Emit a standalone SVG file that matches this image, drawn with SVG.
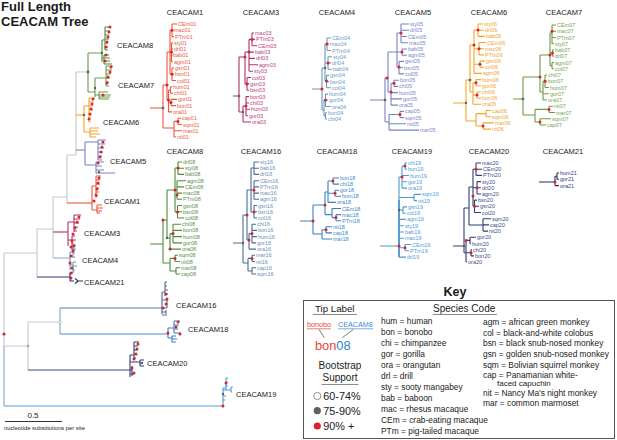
<svg xmlns="http://www.w3.org/2000/svg" width="617" height="440" viewBox="0 0 617 440">
<style>
text{font-family:"Liberation Sans",Arial,Helvetica,sans-serif}
.ttl{font-size:7.5px;fill:#1a1a1a;text-anchor:middle}
.lb{font-size:7.5px;fill:#1a1a1a}
.tp{font-size:5.5px}
.br{fill:none;stroke-width:1.1}
.rd{fill:#d7262b}
.gd{fill:#5f6062}
.k{font-size:8.4px;fill:#1a1a1a}
</style>
<rect width="617" height="440" fill="#fff"/>
<text x="1" y="11.2" font-size="13" font-weight="bold" fill="#1a1a1a">Full Length</text>
<text x="1" y="25.5" font-size="13" font-weight="bold" fill="#1a1a1a">CEACAM Tree</text>

<!-- Main tree connectors -->
<g id="connectors">
<path class="br" stroke="#c5c8cc" d="M4 253V346 M4 253H37 M37 229V277 M37 229H53 M53 197V258 M53 197H67 M67 155V203 M67 155H76 M76 72V155 M76 72H88 M4 346H28 M28 322V370 M28 322H60"/>
<path class="br" stroke="#7aaad8" d="M4 346V406"/>
<path class="br" stroke="#8aa0bb" d="M60 308V334"/>
<path class="br" stroke="#3b3580" d="M37 277H70"/>
<path class="br" stroke="#b12f6a" d="M53 232H68"/>
<path class="br" stroke="#8fb0cf" d="M53 258H70"/>
<path class="br" stroke="#e8553a" d="M67 203H92"/>
<path class="br" stroke="#f4a528" d="M76 115H84"/>
<path class="br" stroke="#7682c2" d="M76 150H85"/>
<path class="br" stroke="#6c9a48" d="M88 53V92 M88 53H102 M88 92H95"/>
<path class="br" stroke="#5d7fa6" d="M60 308H162"/>
<path class="br" stroke="#4f8cc8" d="M60 334H168"/>
<path class="br" stroke="#3a4a80" d="M28 370H130"/>
<path class="br" stroke="#5b9dd8" d="M4 406H222"/>
<circle class="rd" cx="4" cy="334" r="1.6"/>
<circle class="gd" cx="88" cy="72" r="1.4"/>
<circle fill="#aaa" cx="28" cy="346" r="1.3"/>
<circle fill="#fff" stroke="#999" stroke-width="0.5" cx="60" cy="322" r="1.3"/>
</g>

<!-- Main tree clades -->
<g id="m-c8">
<path class="br" stroke="#4f8a3e" d="M102 40V62 M102 40H105 M105 27V50 M105 27H111 M105 31H110 M105 35H109 M105 39H109 M105 43H108 M105 47H108 M105 50H108 M102 58H104 M104 55V64 M104 55H109 M104 58H110 M104 61H110 M104 64H112"/>
<circle class="rd" cx="110" cy="27" r="1.5"/><circle class="rd" cx="109" cy="32" r="1.5"/><circle class="rd" cx="108" cy="37" r="1.5"/><circle class="rd" cx="107" cy="42" r="1.5"/><circle class="rd" cx="106" cy="47" r="1.5"/><circle class="rd" cx="106" cy="55" r="1.5"/><circle class="rd" cx="105" cy="61" r="1.5"/><circle class="gd" cx="102" cy="53" r="1.2"/>
<text class="lb" x="117" y="47.7">CEACAM8</text>
</g>
<g id="m-c7">
<path class="br" stroke="#6c9a48" d="M95 78V97 M95 78H106 M106 66V86 M106 66H113 M106 70H112 M106 74H111 M106 78H110 M106 82H109 M106 86H109 M95 95H99 M99 92V99 M99 92H108 M99 95H111 M99 97H110 M99 99H109"/>
<circle class="rd" cx="111" cy="67" r="1.5"/><circle class="rd" cx="110" cy="72" r="1.5"/><circle class="rd" cx="108" cy="77" r="1.5"/><circle class="rd" cx="107" cy="83" r="1.5"/><circle class="rd" cx="103" cy="95" r="1.5"/><circle class="gd" cx="95" cy="88" r="1.2"/>
<text class="lb" x="118" y="87.5">CEACAM7</text>
</g>
<g id="m-c6">
<path class="br" stroke="#f4a528" d="M84 106V132 M84 106H89 M89 98V122 M89 98H95 M89 102H94 M89 106H93 M89 110H93 M89 114H92 M89 118H91 M89 122H91 M84 132H90 M90 128V137 M90 128H99 M90 131H98 M90 134H100 M90 137H96"/>
<circle class="rd" cx="93" cy="99" r="1.5"/><circle class="rd" cx="92" cy="104" r="1.5"/><circle class="rd" cx="91" cy="109" r="1.5"/><circle class="rd" cx="90" cy="114" r="1.5"/><circle class="rd" cx="89" cy="119" r="1.5"/><circle class="gd" cx="84" cy="115" r="1.2"/>
<text class="lb" x="103" y="124.5">CEACAM6</text>
</g>
<g id="m-c5">
<path class="br" stroke="#7682c2" d="M85 142V165 M85 142H98 M98 140V160 M98 140H106 M98 144H105 M98 148H104 M98 152H103 M98 156H102 M98 160H102 M85 165H96 M96 162V173 M96 162H104 M96 166H102 M96 170H104 M96 173H115"/>
<circle class="rd" cx="103" cy="142" r="1.5"/><circle class="rd" cx="102" cy="147" r="1.5"/><circle class="rd" cx="101" cy="152" r="1.5"/><circle class="rd" cx="100" cy="157" r="1.5"/><circle class="rd" cx="98" cy="163" r="1.5"/><circle class="gd" cx="99" cy="172" r="1.2"/>
<text class="lb" x="110" y="163.5">CEACAM5</text>
</g>
<g id="m-c1">
<path class="br" stroke="#e8553a" d="M92 186V210 M92 186H96 M96 176V198 M96 176H101 M96 180H100 M96 184H100 M96 188H99 M96 192H99 M96 196H98 M92 210H97 M97 205V213 M97 205H102 M97 208H103 M97 211H102 M97 213H100"/>
<circle class="rd" cx="99" cy="178" r="1.5"/><circle class="rd" cx="98" cy="183" r="1.5"/><circle class="rd" cx="97" cy="189" r="1.5"/><circle class="rd" cx="96" cy="195" r="1.5"/><circle class="rd" cx="94" cy="201" r="1.5"/>
<text class="lb" x="104" y="203.5">CEACAM1</text>
</g>
<g id="m-c3">
<path class="br" stroke="#b12f6a" d="M68 222V246 M68 222H74 M74 215V232 M74 215H81 M74 219H80 M74 223H79 M74 227H78 M74 231H77 M68 240H72 M72 236V250 M72 236H75 M72 240H76 M72 244H74 M72 248H73 M72 250H75"/>
<circle class="rd" cx="79" cy="217" r="1.5"/><circle class="rd" cx="77" cy="222" r="1.5"/><circle class="rd" cx="75" cy="228" r="1.5"/><circle class="rd" cx="73" cy="234" r="1.5"/><circle class="rd" cx="72" cy="241" r="1.5"/><circle class="rd" cx="71" cy="247" r="1.5"/>
<text class="lb" x="84" y="236">CEACAM3</text>
</g>
<g id="m-c4">
<path class="br" stroke="#6b98bd" d="M70 252V270 M70 252H73 M73 245V258 M73 245H76 M73 249H76 M73 253H75 M73 257H75 M70 265H73 M73 262V272 M73 262H76 M73 266H77 M73 270H75 M73 272H74"/>
<circle class="rd" cx="74" cy="246" r="1.5"/><circle class="rd" cx="73" cy="251" r="1.5"/><circle class="rd" cx="71" cy="256" r="1.5"/><circle class="rd" cx="70" cy="263" r="1.5"/><circle class="rd" cx="72" cy="268" r="1.5"/>
<text class="lb" x="82" y="263">CEACAM4</text>
</g>
<g id="m-c21">
<path class="br" stroke="#2a2a70" d="M70 273V281 M70 273H73 M70 281H74 M75 278.5L78 281 L83 281 M75 283.5L78 281"/>
<circle class="rd" cx="71" cy="273" r="1.5"/><circle class="rd" cx="71" cy="278" r="1.5"/>
<text class="lb" x="84" y="284.5">CEACAM21</text>
</g>
<g id="m-c16">
<path class="br" stroke="#4a6e94" d="M162 292V314 M162 300H167 M167 300V308 M162 308H167 M162 292H165 M165 282V296 M165 282H167 M165 286H167 M165 290H168 M165 294H168 M162 312H166 M162 315H167 M166 310V314"/>
<circle class="rd" cx="166" cy="294" r="1.5"/><circle class="rd" cx="167" cy="299" r="1.5"/><circle class="rd" cx="166" cy="304" r="1.5"/><circle class="rd" cx="163" cy="308" r="1.5"/>
<text class="lb" x="176" y="308">CEACAM16</text>
</g>
<g id="m-c18">
<path class="br" stroke="#3a80c2" d="M168 328V338 M168 328H174 M174 321V333 M174 321H180 M174 325H179 M174 329H178 M174 333H181 M168 338H172 M172 336V342 M172 336H176 M172 339H177 M172 342H176"/>
<circle class="rd" cx="178" cy="322" r="1.5"/><circle class="rd" cx="176" cy="327" r="1.5"/><circle class="rd" cx="168" cy="333" r="1.5"/><circle class="rd" cx="180" cy="334" r="1.5"/>
<text class="lb" x="188" y="332">CEACAM18</text>
</g>
<g id="m-c20">
<path class="br" stroke="#2e3f78" d="M130 355V377 M130 355H134 M134 342V360 M134 342H139 M134 346H138 M134 350H137 M134 354H137 M134 358H136 M130 362H140 M140 360V366 M140 360H144 M140 363H143 M140 366H144 M130 370H132 M130 374H134 M132 366V376"/>
<circle class="rd" cx="138" cy="344" r="1.5"/><circle class="rd" cx="137" cy="349" r="1.5"/><circle class="rd" cx="136" cy="354" r="1.5"/><circle class="rd" cx="134" cy="359" r="1.5"/><circle class="rd" cx="132" cy="368" r="1.5"/><circle class="rd" cx="134" cy="373" r="1.5"/><circle class="gd" cx="142" cy="363" r="1.2"/>
<text class="lb" x="147" y="366">CEACAM20</text>
</g>
<g id="m-c19">
<path class="br" stroke="#4c9ad6" d="M223 388V406 M223 388H226 M226 378V390 M226 378H228 M226 382H228 M226 386H228 M223 390H231 M231 387V392 M231 387H233 M231 392H232 M223 396H226 M223 400H225"/>
<circle class="rd" cx="226" cy="383" r="1.5"/><circle class="rd" cx="223" cy="406" r="1.5"/><circle class="gd" cx="223" cy="394" r="1.2"/>
<text class="lb" x="236" y="397">CEACAM19</text>
</g>

<g id="scale">
<path d="M5 421.5H62" stroke="#333" stroke-width="1"/>
<text x="33" y="418" font-size="8" fill="#1a1a1a" text-anchor="middle">0.5</text>
<text x="4" y="429.5" font-size="5.8" fill="#1a1a1a">nucleotide substitutions per site</text>
</g>

<!-- Small trees -->
<g id="tree-c1">
<text class="ttl" x="185" y="14.5">CEACAM1</text>
<path class="br" stroke="#e8553a" d="M150 108H163 M163 85V128 M163 85H167 M167 52V100 M167 52H170 M170 30.3V74.2 M170 30.3H172 M172 24V36.6 M172 24H177 M172 30.3H173 M172 36.6H174 M170 52H171.5 M171.5 42.8V61.7 M171.5 42.8H173 M171.5 49.1H173 M171.5 55.4H172.5 M171.5 61.7H173 M170 74.2H172 M172 68V80.5 M172 68H174 M172 74.2H174 M172 80.5H176 M167 100H168.5 M168.5 90V111.9 M168.5 90H170.5 M170.5 86.8V93.1 M170.5 86.8H172 M170.5 93.1H173 M168.5 102.5H171 M171 99.4V105.6 M171 99.4H177 M171 105.6H176 M168.5 111.9H172 M163 128H174 M174 121.4V137 M174 121.4H178 M178 118.2V124.5 M178 118.2H181 M178 124.5H182 M174 130.8H182 M174 137H176"/>
<circle class="rd" cx="172" cy="30.3" r="1.5"/><circle class="rd" cx="171.5" cy="52" r="1.5"/><circle class="rd" cx="172" cy="74.2" r="1.5"/><circle class="rd" cx="168.5" cy="100" r="1.5"/><circle class="rd" cx="171" cy="102.5" r="1.5"/><circle class="rd" cx="167" cy="85" r="1.5"/><circle class="rd" cx="178" cy="121.4" r="1.5"/><circle class="gd" cx="163" cy="108" r="1.3"/>
<g class="tp" fill="#ea5a40">
<text x="178" y="26">CEm01</text><text x="174" y="32.3">mac01</text><text x="175" y="38.6">PTm01</text><text x="174" y="44.8">sty01</text><text x="174" y="51.1">drl01</text><text x="173" y="57.4">bab01</text><text x="174" y="63.7">agm01</text><text x="175" y="70">gsn01</text><text x="175" y="76.2">bsn01</text><text x="177" y="82.5">col01</text><text x="173" y="88.8">hum01</text><text x="174" y="95.1">chi01</text><text x="178" y="101.4">gor01</text><text x="177" y="107.6">bon01</text><text x="173" y="113.9">ora01</text><text x="182" y="120.2">cap01</text><text x="183" y="126.5">sqm01</text><text x="183" y="132.8">mar01</text><text x="177" y="139">nit01</text>
</g>
</g>

<g id="tree-c3">
<text class="ttl" x="261" y="14.5">CEACAM3</text>
<path class="br" stroke="#b12f6a" d="M233 96H239 M239 57V112 M239 57H245 M245 52V84 M245 52H249 M249 39.4V71.2 M249 39.4H252 M252 33V45.7 M252 33H254 M252 39.4H255 M252 45.7H257 M249 52.1H254 M249 58.4H255 M249 64.8H258 M249 71.2H253 M245 84H247 M247 77.5V90.2 M247 77.5H251 M247 83.9H249 M247 90.2H249 M239 112H243 M243 106V122 M243 106H246 M246 96.6V115.7 M246 96.6H249 M246 103H249 M246 109.3H250 M246 115.7H248 M243 122H251"/>
<circle class="rd" cx="252" cy="39.4" r="1.5"/><circle class="rd" cx="249" cy="52" r="1.5"/><circle class="rd" cx="247" cy="84" r="1.5"/><circle class="rd" cx="246" cy="106" r="1.5"/><circle class="rd" cx="245" cy="57" r="1.5"/><circle class="gd" cx="239" cy="96" r="1.3"/><circle class="gd" cx="243" cy="112" r="1.2"/>
<g class="tp" fill="#c0407a">
<text x="255" y="35">mac03</text><text x="256" y="41.4">PTm03</text><text x="258" y="47.7">CEm03</text><text x="255" y="54.1">bab03</text><text x="256" y="60.4">drl03</text><text x="259" y="66.8">agm03</text><text x="254" y="73.2">sty03</text><text x="252" y="79.5">col03</text><text x="250" y="85.9">gsn03</text><text x="250" y="92.2">bsn03</text><text x="250" y="98.6">bon03</text><text x="250" y="105">chi03</text><text x="251" y="111.3">hum03</text><text x="249" y="117.7">gor03</text><text x="252" y="124">ora03</text>
</g>
</g>

<g id="tree-c4">
<text class="ttl" x="337" y="14.5">CEACAM4</text>
<path class="br" stroke="#6b98bd" d="M312 89H322 M322 68V110 M322 68H325 M325 44V81 M325 44H327 M327 38V50.5 M327 38H331 M327 44.2H329 M327 50.5H331 M325 63H328 M328 56.7V69.2 M328 56.7H332 M328 62.9H331 M328 69.2H332 M325 81H326.5 M326.5 75.4V87.8 M326.5 75.4H329 M326.5 81.6H329 M326.5 87.8H331 M322 110H324 M324 100V116 M324 100H325.5 M325.5 94.1V106.5 M325.5 94.1H328 M325.5 100.3H328 M325.5 106.5H331 M324 116H325.5 M325.5 112.8V119 M325.5 112.8H327 M325.5 119H327"/>
<circle class="rd" cx="327" cy="44" r="1.5"/><circle class="rd" cx="328" cy="63" r="1.5"/><circle class="rd" cx="326.5" cy="81" r="1.5"/><circle class="rd" cx="325.5" cy="100" r="1.5"/><circle class="rd" cx="322" cy="89" r="1.5"/><circle class="gd" cx="325" cy="68" r="1.2"/>
<g class="tp" fill="#6c9cc6">
<text x="332" y="40">CEm04</text><text x="330" y="46.2">mac04</text><text x="332" y="52.5">PTm04</text><text x="333" y="58.7">sty04</text><text x="332" y="64.9">drl04</text><text x="333" y="71.2">bab04</text><text x="330" y="77.4">gsn04</text><text x="330" y="83.6">bsn04</text><text x="332" y="89.8">col04</text><text x="329" y="96.1">hum04</text><text x="329" y="102.3">gor04</text><text x="332" y="108.5">ora04</text><text x="328" y="114.8">bon04</text><text x="328" y="121">chi04</text>
</g>
</g>

<g id="tree-c5">
<text class="ttl" x="413" y="14.5">CEACAM5</text>
<path class="br" stroke="#7682c2" d="M370 100H385 M385 78V122 M385 78H388 M388 52V92 M388 52H397 M397 33V67 M397 33H401 M401 24V42.7 M401 24H409 M401 30.2H409 M401 36.5H407 M401 42.7H408 M397 52H402 M402 49V55.2 M402 49H407 M402 55.2H407 M397 67H399 M399 61.4V73.9 M399 61.4H404 M399 67.7H403 M399 73.9H404 M388 92H391 M391 83.3V105.1 M391 83.3H394 M394 80.2V86.4 M394 80.2H399 M394 86.4H398 M391 92.6H398 M391 98.9H402 M391 105.1H398 M385 122H389 M389 114.5V130.1 M389 114.5H400 M400 111.4V117.6 M400 111.4H404 M400 117.6H404 M389 123.8H406 M389 130.1H419"/>
<circle class="rd" cx="387" cy="78" r="1.5"/><circle class="rd" cx="401" cy="33" r="1.5"/><circle class="rd" cx="402" cy="52" r="1.5"/><circle class="rd" cx="399" cy="67" r="1.5"/><circle class="rd" cx="394" cy="83.3" r="1.5"/><circle class="rd" cx="391" cy="92" r="1.5"/><circle class="rd" cx="400" cy="114.5" r="1.5"/><circle class="gd" cx="385" cy="100" r="1.3"/>
<g class="tp" fill="#7c88cc">
<text x="410" y="26">sty05</text><text x="410" y="32.2">drl05</text><text x="408" y="38.5">CEm05</text><text x="409" y="44.7">mac05</text><text x="408" y="51">bab05</text><text x="408" y="57.2">agm05</text><text x="405" y="63.4">gsn05</text><text x="404" y="69.7">bsn05</text><text x="405" y="75.9">col05</text><text x="400" y="82.2">bon05</text><text x="399" y="88.4">chi05</text><text x="399" y="94.6">hum05</text><text x="403" y="100.9">gor05</text><text x="399" y="107.1">ora05</text><text x="405" y="113.4">cap05</text><text x="405" y="119.6">sqm05</text><text x="407" y="125.8">nit05</text><text x="420" y="132.1">mar05</text>
</g>
</g>

<g id="tree-c6">
<text class="ttl" x="489" y="14.5">CEACAM6</text>
<path class="br" stroke="#f4a528" d="M453 103H466 M466 80V121 M466 80H470 M470 45V92 M470 45H474 M474 30V73.4 M474 30H478 M478 24V36.4 M478 24H483 M478 30.2H484 M478 36.4H485 M474 48.7H479 M479 42.5V54.9 M479 42.5H486 M479 48.7H484 M479 54.9H484 M474 64.2H480 M480 61.1V67.3 M480 61.1H485 M480 67.3H484 M474 73.4H482 M470 92H473 M473 82.7V104.3 M473 82.7H476 M476 79.6V85.8 M476 79.6H481 M476 85.8H481 M473 95.1H477 M477 92V98.2 M477 92H481 M477 98.2H481 M473 104.3H481 M466 121H476 M476 113.6V126 M476 113.6H486 M486 110.5V116.7 M486 110.5H491 M486 116.7H491 M476 126H483 M483 122.9V129.1 M483 122.9H494 M483 129.1H491"/>
<circle class="rd" cx="478" cy="30" r="1.5"/><circle class="rd" cx="479" cy="48.7" r="1.5"/><circle class="rd" cx="480" cy="64.2" r="1.5"/><circle class="rd" cx="474" cy="45" r="1.5"/><circle class="rd" cx="476" cy="82.7" r="1.5"/><circle class="rd" cx="477" cy="95.1" r="1.5"/><circle class="rd" cx="483" cy="126" r="1.5"/><circle class="gd" cx="470" cy="80" r="1.3"/><circle class="gd" cx="466" cy="103" r="1.2"/>
<g class="tp" fill="#f1a537">
<text x="484" y="26">sty06</text><text x="485" y="32.2">drl06</text><text x="486" y="38.4">bab06</text><text x="487" y="44.5">CEm06</text><text x="485" y="50.7">mac06</text><text x="485" y="56.9">PTm06</text><text x="486" y="63.1">gsn06</text><text x="485" y="69.3">col06</text><text x="483" y="75.4">agm06</text><text x="482" y="81.6">hum06</text><text x="482" y="87.8">gor06</text><text x="482" y="94">chi06</text><text x="482" y="100.2">bon06</text><text x="482" y="106.3">ora06</text><text x="492" y="112.5">cap06</text><text x="492" y="118.7">sqm06</text><text x="495" y="124.9">mar06</text><text x="492" y="131.1">nit06</text>
</g>
</g>

<g id="tree-c7">
<text class="ttl" x="564" y="14.5">CEACAM7</text>
<path class="br" stroke="#6c9a48" d="M513 99H523 M523 77V115 M523 77H540 M540 55V92 M540 55H550 M550 33V65.6 M550 33H552 M552 25V43.8 M552 25H556 M552 31.3H556 M552 37.5H556 M552 43.8H554 M550 53.1H552.5 M552.5 50V56.3 M552.5 50H554 M552.5 56.3H554 M550 65.6H552 M552 62.5V68.8 M552 62.5H554 M552 68.8H554 M540 92H543 M543 81.3V100 M543 81.3H545 M545 75V87.5 M545 75H547 M545 81.3H547 M545 87.5H549 M543 93.8H549 M543 100H547 M523 115H535 M535 109.4V122 M535 109.4H549 M549 106.3V112.5 M549 106.3H553 M549 112.5H555 M535 122H540 M540 118.8V125 M540 118.8H551 M540 125H546"/>
<circle class="rd" cx="540" cy="77" r="1.5"/><circle class="rd" cx="552" cy="31.3" r="1.5"/><circle class="rd" cx="552.5" cy="53.1" r="1.5"/><circle class="rd" cx="545" cy="81.3" r="1.5"/><circle class="rd" cx="549" cy="109.4" r="1.5"/><circle class="rd" cx="540" cy="122" r="1.5"/><circle class="rd" cx="550" cy="55" r="1.5"/><circle class="gd" cx="523" cy="99" r="1.3"/>
<g class="tp" fill="#78a458">
<text x="557" y="27">CEm07</text><text x="557" y="33.3">mac07</text><text x="557" y="39.5">PTm07</text><text x="555" y="45.8">sty07</text><text x="555" y="52">bab07</text><text x="555" y="58.3">drl07</text><text x="555" y="64.5">agm07</text><text x="555" y="70.8">col07</text><text x="548" y="77">chi07</text><text x="548" y="83.3">bon07</text><text x="550" y="89.5">hum07</text><text x="550" y="95.8">gor07</text><text x="548" y="102">ora07</text><text x="554" y="108.3">nit07</text><text x="556" y="114.5">mar07</text><text x="552" y="120.8">sqm07</text><text x="547" y="127">cap07</text>
</g>
</g>

<g id="tree-c8">
<text class="ttl" x="185" y="153.7">CEACAM8</text>
<path class="br" stroke="#4f8a3e" d="M150 244H163 M163 220V263 M163 220H167 M167 190V238 M167 190H175 M175 168V212 M175 168H178 M178 162V174.4 M178 162H182 M178 168.2H184 M178 174.4H184 M175 190H177 M177 180.7V199.3 M177 180.7H186 M177 186.9H184 M177 193.1H182 M177 199.3H182 M175 212H177.5 M177.5 205.5V218 M177.5 205.5H182 M177.5 211.8H182 M177.5 218H184 M167 238H170 M170 233.6V249.1 M170 233.6H173 M173 224.2V242.9 M173 224.2H181 M173 230.4H182 M173 236.6H182 M173 242.9H182 M170 249.1H181 M163 263H170 M170 258.4V271 M170 258.4H175 M175 255.3V261.5 M175 255.3H178 M175 261.5H180 M170 271H176 M176 267.8V274 M176 267.8H180 M176 274H180"/>
<circle class="rd" cx="163" cy="220" r="1.5"/><circle class="rd" cx="175" cy="190" r="1.5"/><circle class="rd" cx="178" cy="168" r="1.5"/><circle class="rd" cx="177.5" cy="212" r="1.5"/><circle class="rd" cx="173" cy="233.6" r="1.5"/><circle class="rd" cx="170" cy="249.1" r="1.5"/><circle class="rd" cx="177" cy="195" r="1.5"/><circle class="rd" cx="175" cy="258.4" r="1.5"/><circle class="gd" cx="167" cy="238" r="1.2"/>
<g class="tp" fill="#5b9050">
<text x="183" y="164">drl08</text><text x="185" y="170.2">sty08</text><text x="185" y="176.4">bab08</text><text x="187" y="182.7">agm08</text><text x="185" y="188.9">CEm08</text><text x="183" y="195.1">mac08</text><text x="183" y="201.3">PTm08</text><text x="183" y="207.5">gsn08</text><text x="183" y="213.8">bsn08</text><text x="185" y="220">col08</text><text x="182" y="226.2">chi08</text><text x="183" y="232.4">bon08</text><text x="183" y="238.6">hum08</text><text x="183" y="244.9">gor08</text><text x="182" y="251.1">ora08</text><text x="179" y="257.3">sqm08</text><text x="181" y="263.5">nit08</text><text x="181" y="269.8">mar08</text><text x="181" y="276">cap08</text>
</g>
</g>

<g id="tree-c16">
<text class="ttl" x="261" y="153.7">CEACAM16</text>
<path class="br" stroke="#4a6e94" d="M233 243H243 M243 215V263 M243 215H247 M247 190V240 M247 190H251 M251 168V212 M251 168H254 M254 162V174.4 M254 162H259 M254 168.2H259 M254 174.4H259 M251 190H254 M254 180.7V199.3 M254 180.7H259 M254 186.9H259 M254 193.1H259 M254 199.3H259 M251 212H254 M254 205.5V218 M254 205.5H257 M254 211.8H257 M254 218H257 M247 240H249 M249 233.6V249.1 M249 233.6H252 M252 224.2V242.9 M252 224.2H256 M252 230.4H257 M252 236.6H257 M252 242.9H256 M249 249.1H256 M243 263H248 M248 258.4V271 M248 258.4H252 M252 255.3V261.5 M252 255.3H255 M252 261.5H255 M248 271H252 M252 267.8V274 M252 267.8H256 M252 274H256"/>
<circle class="rd" cx="247" cy="215" r="1.5"/><circle class="rd" cx="254" cy="190" r="1.5"/><circle class="rd" cx="254" cy="212" r="1.5"/><circle class="rd" cx="252" cy="233.6" r="1.5"/><circle class="rd" cx="249" cy="240" r="1.5"/><circle class="rd" cx="252" cy="258.4" r="1.5"/><circle class="gd" cx="243" cy="243" r="1.2"/>
<g class="tp" fill="#6a90b8">
<text x="260" y="164">sty16</text><text x="260" y="170.2">bab16</text><text x="260" y="176.4">drl16</text><text x="260" y="182.7">CEm16</text><text x="260" y="188.9">PTm16</text><text x="260" y="195.1">mac16</text><text x="260" y="201.3">agm16</text><text x="258" y="207.5">gsn16</text><text x="258" y="213.8">bsn16</text><text x="258" y="220">col16</text><text x="257" y="226.2">chi16</text><text x="258" y="232.4">bon16</text><text x="258" y="238.6">hum16</text><text x="257" y="244.9">gor16</text><text x="257" y="251.1">ora16</text><text x="256" y="257.3">mar16</text><text x="256" y="263.5">nit16</text><text x="257" y="269.8">cap16</text><text x="257" y="276">sqm16</text>
</g>
</g>

<g id="tree-c18">
<text class="ttl" x="337" y="153.7">CEACAM18</text>
<path class="br" stroke="#3a80c2" d="M300 221H313 M313 205V234 M313 205H325 M325 192V214.6 M325 192H328 M328 181V202.4 M328 181H333 M333 178V184.1 M333 178H339 M333 184.1H339 M328 193.2H335 M335 190.2V196.3 M335 190.2H339 M335 196.3H341 M328 202.4H336 M325 214.6H332 M332 208.5V217.6 M332 208.5H341 M332 217.6H336 M336 214.6V220.7 M336 214.6H341 M336 220.7H341 M313 234H322 M322 229.8V239 M322 229.8H326 M326 226.8V232.9 M326 226.8H332 M326 232.9H332 M322 239H332"/>
<circle class="rd" cx="313" cy="221" r="1.5"/><circle class="rd" cx="325" cy="205" r="1.5"/><circle class="rd" cx="333" cy="181" r="1.5"/><circle class="rd" cx="335" cy="193.2" r="1.5"/><circle class="rd" cx="336" cy="217.6" r="1.5"/><circle class="rd" cx="326" cy="229.8" r="1.5"/>
<g class="tp" fill="#3d88cc">
<text x="340" y="180">bon18</text><text x="340" y="186.1">chi18</text><text x="340" y="192.2">gor18</text><text x="342" y="198.3">hum18</text><text x="337" y="204.4">ora18</text><text x="342" y="210.5">CEm18</text><text x="342" y="216.6">mac18</text><text x="342" y="222.7">PTm18</text><text x="333" y="228.8">nit18</text><text x="333" y="234.9">cap18</text><text x="333" y="241">mar18</text>
</g>
</g>

<g id="tree-c19">
<text class="ttl" x="412" y="153.7">CEACAM19</text>
<path class="br" stroke="#4c9ad6" d="M380 246H399 M399 177V257.1 M399 177H402 M402 166V188.1 M402 166H405 M405 163V169.3 M405 163H407 M405 169.3H407 M402 175.5H409 M402 181.8H407 M402 188.1H407 M399 197.5H414 M414 194.4V200.6 M414 194.4H421 M414 200.6H417 M399 210H403 M403 206.9V213.2 M403 206.9H407 M403 213.2H406 M399 219.4H406 M399 225.7H404 M399 232H404 M399 238.3H404 M399 247.7H405 M405 244.5V250.8 M405 244.5H411 M405 250.8H409 M399 257.1H406"/>
<path stroke="#4c9ad6" stroke-width="1.8" fill="none" d="M399 200V257"/>
<circle class="rd" cx="405" cy="166" r="1.5"/><circle class="rd" cx="402" cy="177" r="1.5"/><circle class="rd" cx="405" cy="247.7" r="1.5"/><circle class="rd" cx="399" cy="246" r="1.5"/><circle class="gd" cx="399" cy="210" r="1.2"/>
<g class="tp" fill="#4f9cda">
<text x="408" y="165">chi19</text><text x="408" y="171.3">bon19</text><text x="410" y="177.5">hum19</text><text x="408" y="183.8">gor19</text><text x="408" y="190.1">ora19</text><text x="422" y="196.4">sqm19</text><text x="418" y="202.6">nit19</text><text x="408" y="208.9">gsn19</text><text x="407" y="215.2">col19</text><text x="407" y="221.4">agm19</text><text x="405" y="227.7">sty19</text><text x="405" y="234">bab19</text><text x="405" y="240.3">mac19</text><text x="412" y="246.5">CEm19</text><text x="410" y="252.8">PTm19</text><text x="407" y="259.1">drl19</text>
</g>
</g>

<g id="tree-c20">
<text class="ttl" x="489" y="153.7">CEACAM20</text>
<path class="br" stroke="#2e3f78" d="M453 246H464 M464 208V252.8 M464 208H469 M469 187V225 M469 187H473 M473 169.2V206.3 M473 169.2H476 M476 163V175.4 M476 163H481 M476 169.2H482 M476 175.4H482 M473 187.8H477 M477 181.6V194 M477 181.6H481 M477 187.8H481 M477 194H481 M473 206.3H474.5 M474.5 200.1V212.5 M474.5 200.1H477 M474.5 206.3H479 M474.5 212.5H481 M469 225H483 M483 218.7V231.1 M483 218.7H491 M483 224.9H489 M483 231.1H488 M464 252.8H466 M466 240.4V262 M466 240.4H470 M470 237.3V243.5 M470 237.3H476 M470 243.5H471 M466 252.8H471 M471 249.7V255.9 M471 249.7H472 M471 255.9H474 M466 262H467"/>
<circle class="rd" cx="476" cy="169.2" r="1.5"/><circle class="rd" cx="477" cy="187.8" r="1.5"/><circle class="rd" cx="474.5" cy="206.3" r="1.5"/><circle class="rd" cx="466" cy="240.4" r="1.5"/><circle class="rd" cx="471" cy="252.8" r="1.5"/><circle class="rd" cx="473" cy="196" r="1.5"/><circle class="gd" cx="464" cy="246" r="1.3"/>
<g class="tp" fill="#3c4c8c">
<text x="482" y="165">mac20</text><text x="483" y="171.2">CEm20</text><text x="483" y="177.4">PTm20</text><text x="482" y="183.6">sty20</text><text x="482" y="189.8">drl20</text><text x="482" y="196">agm20</text><text x="478" y="202.1">bsn20</text><text x="480" y="208.3">gsn20</text><text x="482" y="214.5">col20</text><text x="492" y="220.7">sqm20</text><text x="490" y="226.9">cap20</text><text x="489" y="233.1">nit20</text><text x="477" y="239.3">gor20</text><text x="472" y="245.5">hum20</text><text x="473" y="251.7">chi20</text><text x="475" y="257.9">bon20</text><text x="468" y="264">ora20</text>
</g>
</g>

<g id="tree-c21">
<text class="ttl" x="563" y="153.7">CEACAM21</text>
<path class="br" stroke="#2a2a70" d="M539 182H555 M555 176.2V185.6 M555 176.2H557 M557 173V179.3 M557 173H559 M557 179.3H559 M555 185.6H559"/>
<circle class="rd" cx="555" cy="182" r="1.5"/>
<g class="tp" fill="#34348c">
<text x="560" y="175">hum21</text><text x="560" y="181.3">gor21</text><text x="560" y="187.6">ora21</text>
</g>
</g>

<!-- Key -->
<g id="key">
<text x="455" y="296" font-size="12.5" font-weight="bold" fill="#1a1a1a" text-anchor="middle">Key</text>
<rect x="303.5" y="300.5" width="311" height="138" fill="none" stroke="#555" stroke-width="1"/>
<text x="315" y="311.5" font-size="9.7" fill="#1a1a1a">Tip Label</text>
<path d="M313 314.5H357 M433 314.5H497 M321.5 384.5H358.5" stroke="#8a8a8a" stroke-width="1"/>
<text x="433" y="311.5" font-size="10" fill="#1a1a1a">Species Code</text>
<text x="307" y="327" font-size="7.2" fill="#e8453c">bonobo</text>
<text x="338" y="327" font-size="7.2" fill="#3a8ad0">CEACAM8</text>
<path d="M307 328.8H331" stroke="#e8453c" stroke-width="0.7"/>
<path d="M338 328.8H373" stroke="#3a8ad0" stroke-width="0.7"/>
<path d="M319 329.5L324.3 337.7 M353.3 329.5L342.3 337.7" stroke="#444" stroke-width="0.7"/>
<text x="315" y="349.5" font-size="12.8"><tspan fill="#e8453c">bon</tspan><tspan fill="#2f7fd0">08</tspan></text>
<text x="340" y="369.3" font-size="10" fill="#1a1a1a" text-anchor="middle">Bootstrap</text>
<text x="340" y="380.5" font-size="10" fill="#1a1a1a" text-anchor="middle">Support</text>
<circle cx="317.3" cy="396" r="3.6" fill="#fff" stroke="#666" stroke-width="0.7"/>
<circle cx="317.3" cy="410.7" r="3.6" fill="#5f6062"/>
<circle cx="317.3" cy="426" r="3.6" fill="#d7262b"/>
<text x="323.3" y="400" font-size="10.8" fill="#1a1a1a">60-74%</text>
<text x="323.3" y="414.7" font-size="10.8" fill="#1a1a1a">75-90%</text>
<text x="323.3" y="430" font-size="10.8" fill="#1a1a1a">90% +</text>
<g class="k">
<text x="381" y="323.8">hum = human</text>
<text x="381" y="334.8">bon = bonobo</text>
<text x="381" y="345.9">chi = chimpanzee</text>
<text x="381" y="356.9">gor = gorilla</text>
<text x="381" y="368">ora = orangutan</text>
<text x="381" y="379">drl = drill</text>
<text x="381" y="390.1">sty = sooty mangabey</text>
<text x="381" y="401.1">bab = baboon</text>
<text x="381" y="412.2">mac = rhesus macaque</text>
<text x="381" y="423.2">CEm = crab-eating macaque</text>
<text x="381" y="434.3">PTm = pig-tailed macaque</text>
<text x="483" y="324.8">agm = african green monkey</text>
<text x="483" y="335.6">col = black-and-white colobus</text>
<text x="483" y="346.3">bsn = black snub-nosed monkey</text>
<text x="483" y="357.2">gsn = golden snub-nosed monkey</text>
<text x="483" y="368.3">sqm = Bolivian squirrel monkey</text>
<text x="483" y="377.6">cap = Panamanian white-</text>
<text x="497" y="386.4" font-size="8">faced capuchin</text>
<text x="483" y="396">nit = Nancy Ma's night monkey</text>
<text x="483" y="406.4">mar = common marmoset</text>
</g>
</g>
</svg>
